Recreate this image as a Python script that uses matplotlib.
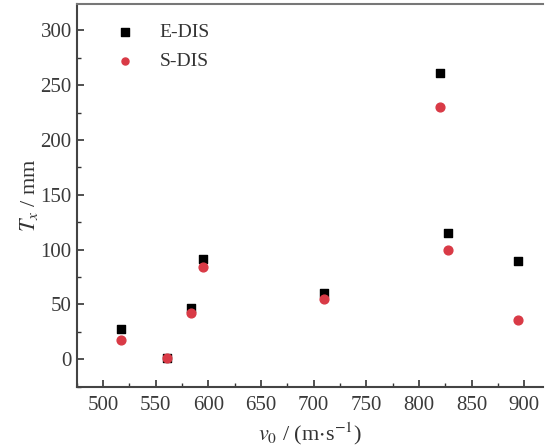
import matplotlib.pyplot as plt
from matplotlib.ticker import MultipleLocator

plt.rcParams['font.family'] = ['Liberation Serif', 'DejaVu Serif']
plt.rcParams['mathtext.fontset'] = 'stix'

# velocity (m/s) and T_x (mm)
v0 = [517, 561, 584, 595, 710, 820, 828, 894]
e_dis = [28, 1, 47, 91, 60, 261, 115, 90]
s_dis = [18, 1, 42, 84, 55, 230, 100, 36]

fig = plt.figure(figsize=(5.47, 4.46), dpi=100)
ax = fig.add_axes([0.140, 0.133, 0.853, 0.858])

ax.scatter(v0, e_dis, marker='s', s=40, color='black', label='E-DIS', zorder=3)
ax.scatter(v0, s_dis, marker='o', s=40, color='#d93a46', label='S-DIS', zorder=4)

ax.set_xlim(475, 918)
ax.set_ylim(-25, 324)
ax.xaxis.set_major_locator(MultipleLocator(50))
ax.xaxis.set_minor_locator(MultipleLocator(25))
ax.yaxis.set_major_locator(MultipleLocator(50))
ax.yaxis.set_minor_locator(MultipleLocator(25))
ax.tick_params(which='both', direction='in', colors='#333333', labelsize=15,
               labelcolor='#3a3a3a')
ax.tick_params(which='major', length=5, width=1.2)
ax.tick_params(axis='x', which='major', pad=7)
ax.tick_params(which='minor', length=3, width=1.0)
ax.tick_params(top=False, right=False, which='both')

for side in ['left', 'bottom']:
    ax.spines[side].set_color('#444444')
    ax.spines[side].set_linewidth(1.5)
ax.spines['top'].set_color('#777777')
ax.spines['top'].set_linewidth(1.5)
ax.spines['right'].set_visible(False)

ax.set_xlabel(r'$v_0$ / (m$\cdot$s$^{-1}$)', fontsize=16, color='#333333', labelpad=4)
ax.set_ylabel(r'$T_x$ / mm', fontsize=16, color='#333333', labelpad=0)

ax.legend(loc='upper left', frameon=False, fontsize=14, handletextpad=0.8,
          borderaxespad=0.6, labelspacing=0.6, bbox_to_anchor=(0.02, 1.0),
          markerscale=0.8, labelcolor='#333333')

fig.savefig('out.png', dpi=100)
